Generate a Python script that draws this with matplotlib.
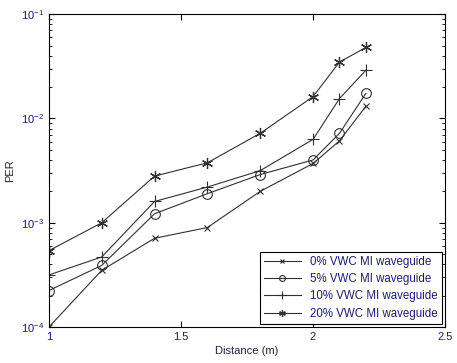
import matplotlib
matplotlib.use('Agg')
import matplotlib.pyplot as plt

plt.rcParams['font.family'] = ['Liberation Sans', 'DejaVu Sans']
plt.rcParams['mathtext.fontset'] = 'custom'
plt.rcParams['mathtext.rm'] = 'Liberation Sans'

distance = [1.0, 1.2, 1.4, 1.6, 1.8, 2.0, 2.1, 2.2]
per_0 = [1.0e-4, 3.5e-4, 7.1e-4, 9.0e-4, 2.0e-3, 3.7e-3, 6.1e-3, 1.31e-2]
per_5 = [2.24e-4, 3.9e-4, 1.22e-3, 1.9e-3, 2.9e-3, 4.0e-3, 7.2e-3, 1.74e-2]
per_10 = [3.16e-4, 4.7e-4, 1.6e-3, 2.2e-3, 3.16e-3, 6.3e-3, 1.55e-2, 2.9e-2]
per_20 = [5.4e-4, 1.0e-3, 2.8e-3, 3.76e-3, 7.2e-3, 1.62e-2, 3.47e-2, 4.8e-2]
labels = ['0% VWC MI waveguide', '5% VWC MI waveguide',
          '10% VWC MI waveguide', '20% VWC MI waveguide']

tick_col = '#1c1c70'
text_col = '#202040'

fig = plt.figure(figsize=(4.57, 3.63), dpi=100)
ax = fig.add_axes([0.107, 0.099, 0.867, 0.862])

line_col = '#303030'
asterisk = (6, 2, 0)
ax.semilogy(distance, per_0, color=line_col, lw=0.8, marker='x', ms=5, mew=0.8, label=labels[0])
ax.semilogy(distance, per_5, color=line_col, lw=0.8, marker='o', ms=7, mfc='none', mew=0.8, label=labels[1])
ax.semilogy(distance, per_10, color=line_col, lw=0.8, marker='+', ms=9, mew=0.8, label=labels[2])
ax.semilogy(distance, per_20, color=line_col, lw=0.8, marker=asterisk, ms=8, mew=0.9, label=labels[3])

ax.set_xlim(1, 2.5)
ax.set_ylim(1e-4, 1e-1)
ax.set_xticks([1, 1.5, 2, 2.5])
ax.set_xticklabels(['1', '1.5', '2', '2.5'])

ax.tick_params(which='both', direction='in', top=True, right=True, labelsize=8, labelcolor=tick_col)
ax.tick_params(which='major', length=4)
ax.tick_params(which='minor', length=2)
for s in ax.spines.values():
    s.set_linewidth(0.8)

ax.set_xlabel('Distance (m)', fontsize=8, color=text_col, labelpad=3)
ax.set_ylabel('PER', fontsize=8, color=text_col, labelpad=4)

leg = ax.legend(loc='lower right', fontsize=8.3, fancybox=False, framealpha=1,
                edgecolor='black', borderaxespad=0.3, handlelength=3.2,
                labelspacing=0.45, borderpad=0.35, markerscale=0.6)
leg.get_frame().set_linewidth(0.8)
for t in leg.get_texts():
    t.set_color(tick_col)

fig.savefig('out.png', dpi=100)
